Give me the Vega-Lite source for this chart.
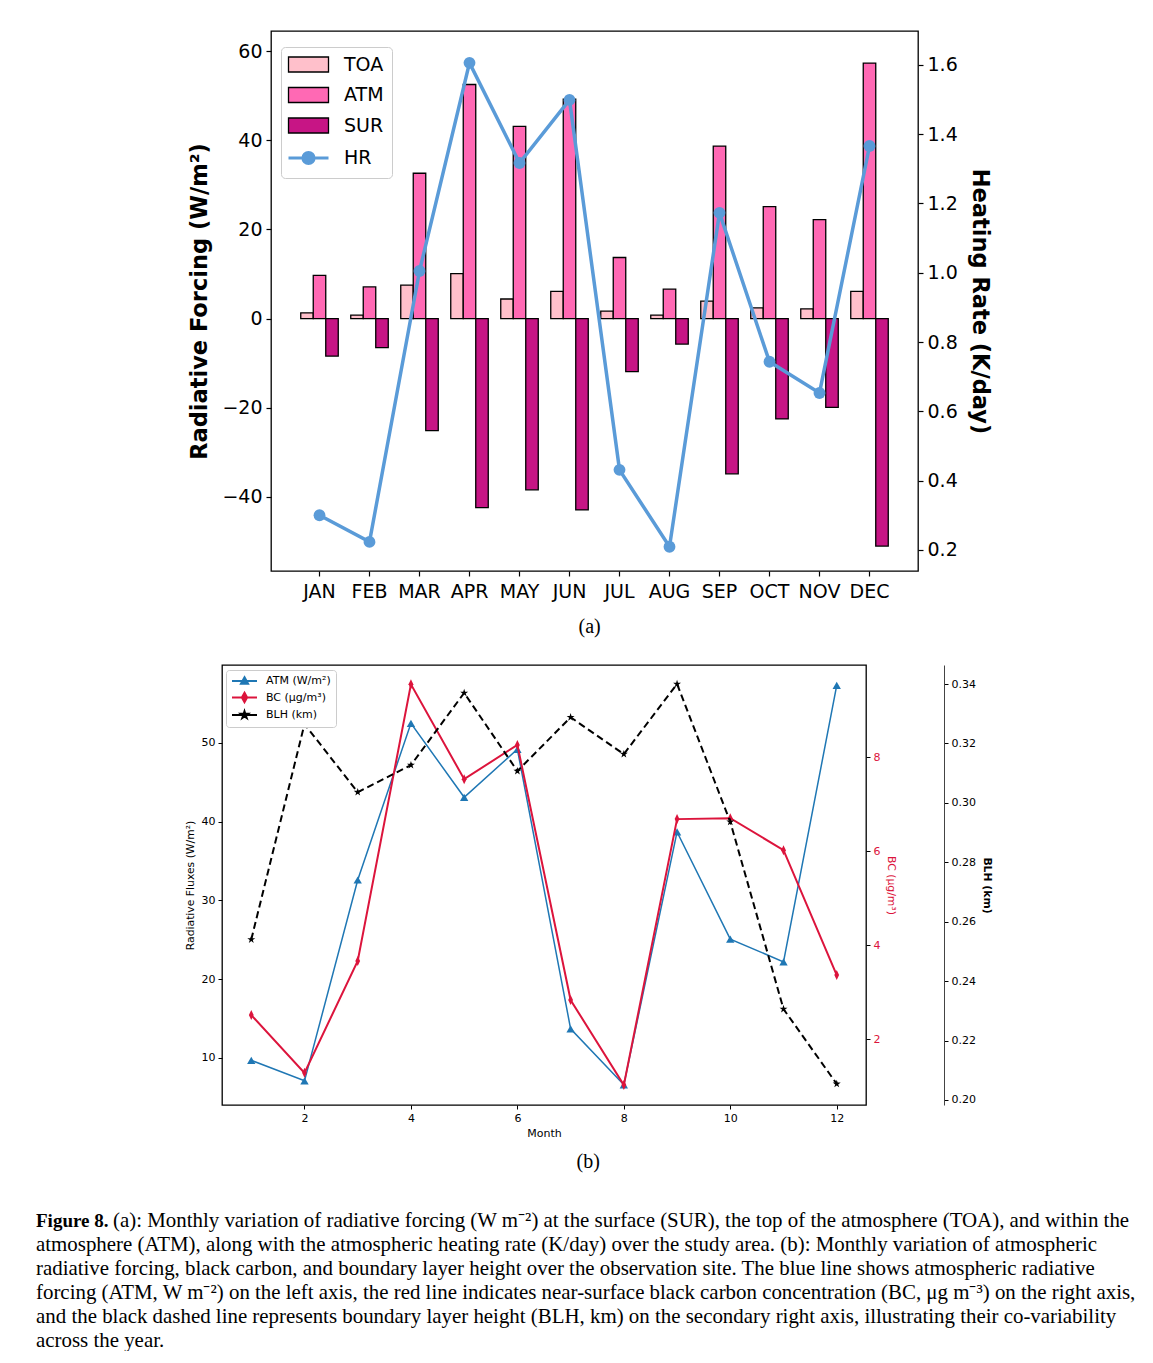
{
  "$schema": "https://vega.github.io/schema/vega-lite/v6.json",
  "padding": {"left": 36, "top": 30, "right": 0, "bottom": 0},
  "background": "white",
  "datasets": {
    "rf": [
      {"month": "JAN", "series": "TOA", "value": 1.3}, {"month": "FEB", "series": "TOA", "value": 0.8}, {"month": "MAR", "series": "TOA", "value": 7.5}, {"month": "APR", "series": "TOA", "value": 10.1}, {"month": "MAY", "series": "TOA", "value": 4.4}, {"month": "JUN", "series": "TOA", "value": 6.1}, {"month": "JUL", "series": "TOA", "value": 1.7}, {"month": "AUG", "series": "TOA", "value": 0.8}, {"month": "SEP", "series": "TOA", "value": 3.9}, {"month": "OCT", "series": "TOA", "value": 2.4}, {"month": "NOV", "series": "TOA", "value": 2.2}, {"month": "DEC", "series": "TOA", "value": 6.1},
      {"month": "JAN", "series": "ATM", "value": 9.7}, {"month": "FEB", "series": "ATM", "value": 7.1}, {"month": "MAR", "series": "ATM", "value": 32.6}, {"month": "APR", "series": "ATM", "value": 52.5}, {"month": "MAY", "series": "ATM", "value": 43.1}, {"month": "JUN", "series": "ATM", "value": 49.2}, {"month": "JUL", "series": "ATM", "value": 13.7}, {"month": "AUG", "series": "ATM", "value": 6.6}, {"month": "SEP", "series": "ATM", "value": 38.7}, {"month": "OCT", "series": "ATM", "value": 25.1}, {"month": "NOV", "series": "ATM", "value": 22.2}, {"month": "DEC", "series": "ATM", "value": 57.3},
      {"month": "JAN", "series": "SUR", "value": -8.4}, {"month": "FEB", "series": "SUR", "value": -6.5}, {"month": "MAR", "series": "SUR", "value": -25.1}, {"month": "APR", "series": "SUR", "value": -42.4}, {"month": "MAY", "series": "SUR", "value": -38.4}, {"month": "JUN", "series": "SUR", "value": -42.9}, {"month": "JUL", "series": "SUR", "value": -11.9}, {"month": "AUG", "series": "SUR", "value": -5.7}, {"month": "SEP", "series": "SUR", "value": -34.8}, {"month": "OCT", "series": "SUR", "value": -22.5}, {"month": "NOV", "series": "SUR", "value": -19.9}, {"month": "DEC", "series": "SUR", "value": -51.0}
    ],
    "hr": [
      {"month": "JAN", "hr": 0.300}, {"month": "FEB", "hr": 0.223}, {"month": "MAR", "hr": 1.005}, {"month": "APR", "hr": 1.606}, {"month": "MAY", "hr": 1.317}, {"month": "JUN", "hr": 1.499}, {"month": "JUL", "hr": 0.431}, {"month": "AUG", "hr": 0.209}, {"month": "SEP", "hr": 1.173}, {"month": "OCT", "hr": 0.743}, {"month": "NOV", "hr": 0.653}, {"month": "DEC", "hr": 1.366}
    ],
    "mb": [
      {"month": 1, "atm": 9.7, "bc": 2.51, "blh": 0.254},
      {"month": 2, "atm": 7.1, "bc": 1.28, "blh": 0.3265},
      {"month": 3, "atm": 32.6, "bc": 3.66, "blh": 0.3036},
      {"month": 4, "atm": 52.5, "bc": 9.55, "blh": 0.3127},
      {"month": 5, "atm": 43.1, "bc": 7.53, "blh": 0.337},
      {"month": 6, "atm": 49.2, "bc": 8.26, "blh": 0.3107},
      {"month": 7, "atm": 13.7, "bc": 2.83, "blh": 0.3288},
      {"month": 8, "atm": 6.6, "bc": 1.02, "blh": 0.3164},
      {"month": 9, "atm": 38.7, "bc": 6.68, "blh": 0.340},
      {"month": 10, "atm": 25.1, "bc": 6.70, "blh": 0.2936},
      {"month": 11, "atm": 22.2, "bc": 6.02, "blh": 0.2306},
      {"month": 12, "atm": 57.3, "bc": 3.36, "blh": 0.2054}
    ],
    "cap": [
      {"line": 0, "part": "bold", "text": "Figure 8."},
      {"line": 0, "part": "rest", "text": "(a): Monthly variation of radiative forcing (W m⁻²) at the surface (SUR), the top of the atmosphere (TOA), and within the"},
      {"line": 1, "part": "body", "text": "atmosphere (ATM), along with the atmospheric heating rate (K/day) over the study area. (b): Monthly variation of atmospheric"},
      {"line": 2, "part": "body", "text": "radiative forcing, black carbon, and boundary layer height over the observation site. The blue line shows atmospheric radiative"},
      {"line": 3, "part": "body", "text": "forcing (ATM, W m⁻²) on the left axis, the red line indicates near-surface black carbon concentration (BC, μg m⁻³) on the right axis,"},
      {"line": 4, "part": "body", "text": "and the black dashed line represents boundary layer height (BLH, km) on the secondary right axis, illustrating their co-variability"},
      {"line": 5, "part": "body", "text": "across the year."}
    ],
    "none": []
  },
  "spacing": 26,
  "center": false,
  "resolve": {"scale": {"color": "independent", "x": "independent", "y": "independent"}, "legend": {"color": "independent"}},
  "vconcat": [
    {
      "spacing": 0,
      "bounds": "flush",
      "resolve": {"scale": {"color": "independent", "x": "independent", "y": "independent"}, "legend": {"color": "independent"}},
      "hconcat": [
        {"width": 235, "height": 1, "view": {"stroke": null}, "data": {"name": "none"}, "mark": "point"},
        {
          "width": 647,
          "height": 540,
          "title": {"text": "(a)", "orient": "bottom", "offset": 16},
          "layer": [
            {
              "layer": [
                {
                  "data": {"name": "rf"},
                  "mark": {"type": "bar", "stroke": "black", "strokeWidth": 1.3},
                  "encoding": {
                    "x": {"field": "month", "type": "nominal", "sort": ["JAN","FEB","MAR","APR","MAY","JUN","JUL","AUG","SEP","OCT","NOV","DEC"], "scale": {"paddingInner": 0.25, "paddingOuter": 0.595}, "axis": {"title": null, "labelAngle": 0, "labelFontSize": 19, "labelPadding": 6, "tickSize": 5, "tickWidth": 1.2}},
                    "xOffset": {"field": "series", "type": "nominal", "scale": {"domain": ["TOA","ATM","SUR"], "paddingInner": 0, "paddingOuter": 0}},
                    "y": {"field": "value", "type": "quantitative", "stack": null, "scale": {"domain": [-56.6, 64.5], "nice": false}, "axis": {"title": "Radiative Forcing (W/m²)", "values": [-40,-20,0,20,40,60], "labelFontSize": 19, "titleFontSize": 22.5, "titleFontWeight": "bold", "tickSize": 5, "tickWidth": 1.2, "labelPadding": 4, "titlePadding": 10}},
                    "color": {
                      "field": "series", "type": "nominal",
                      "scale": {"domain": ["TOA","ATM","SUR","HR"], "range": ["#ffc0cb","#ff69b4","#c71585","#5a9bd8"]},
                      "legend": {
                        "title": null, "orient": "none", "legendX": 10, "legendY": 16,
                        "symbolSize": 400, "labelOffset": 36, "labelFontSize": 19, "labelFont": "DejaVu Sans", "labelColor": "black",
                        "rowPadding": 9.5, "padding": 8, "strokeColor": "#cccccc", "fillColor": "white", "cornerRadius": 4,
                        "symbolStrokeColor": "black", "symbolStrokeWidth": 1.3,
                        "encode": {"symbols": {"update": {
                          "shape": {"signal": "datum.value === 'HR' ? 'M-1,0H3M1.55,0A0.55,0.55,0,1,1,0.45,0A0.55,0.55,0,1,1,1.55,0Z' : 'M-1,-0.75H3V0.75H-1Z'"},
                          "fill": {"signal": "{'TOA':'#ffc0cb','ATM':'#ff69b4','SUR':'#c71585','HR':'#5a9bd8'}[datum.value]"},
                          "stroke": {"signal": "datum.value === 'HR' ? '#5a9bd8' : 'black'"},
                          "strokeWidth": {"signal": "datum.value === 'HR' ? 3.2 : 1.3"},
                          "opacity": {"value": 1}
                        }}}
                      }
                    }
                  }
                },
                {
                  "mark": {"type": "rule", "strokeDash": [6, 4], "color": "black", "strokeWidth": 1.3},
                  "encoding": {"y": {"datum": 0}}
                }
              ]
            },
            {
              "data": {"name": "hr"},
              "mark": {"type": "line", "color": "#5a9bd8", "strokeWidth": 3.5, "point": {"filled": true, "size": 140, "color": "#5a9bd8"}},
              "encoding": {
                "x": {"field": "month", "type": "nominal", "sort": ["JAN","FEB","MAR","APR","MAY","JUN","JUL","AUG","SEP","OCT","NOV","DEC"]},
                "y": {"field": "hr", "type": "quantitative", "scale": {"domain": [0.139, 1.698], "nice": false, "zero": false}, "axis": {"orient": "right", "title": "Heating Rate (K/day)", "values": [0.2,0.4,0.6,0.8,1.0,1.2,1.4,1.6], "format": ".1f", "labelFontSize": 19, "titleFontSize": 22.5, "titleFontWeight": "bold", "tickSize": 5, "tickWidth": 1.2, "labelPadding": 4, "titlePadding": 10}}
              }
            }
          ],
          "resolve": {"scale": {"y": "independent"}}
        }
      ]
    },
    {
      "spacing": 0,
      "bounds": "flush",
      "resolve": {"scale": {"color": "independent", "x": "independent", "y": "independent"}, "legend": {"color": "independent"}},
      "hconcat": [
        {"width": 186, "height": 1, "view": {"stroke": null}, "data": {"name": "none"}, "mark": "point"},
        {
          "width": 644,
          "height": 440,
          "title": {"text": "(b)", "orient": "bottom", "offset": 14},
          "data": {"name": "mb"},
          "layer": [
            {
              "mark": {"type": "line", "strokeWidth": 1.5, "point": {"filled": true, "shape": "triangle-up", "size": 70}},
              "encoding": {
                "x": {"field": "month", "type": "quantitative", "scale": {"domain": [0.45, 12.55], "nice": false, "zero": false}, "axis": {"title": "Month", "values": [2,4,6,8,10,12], "labelFontSize": 11, "titleFontSize": 11, "titleFontWeight": "normal", "tickSize": 4, "labelPadding": 3, "titlePadding": 4}},
                "y": {"field": "atm", "type": "quantitative", "scale": {"domain": [4.03, 59.9], "nice": false, "zero": false}, "axis": {"orient": "left", "title": "Radiative Fluxes (W/m²)", "values": [10,20,30,40,50], "labelFontSize": 11, "titleFontSize": 10.8, "titleFontWeight": "normal", "tickSize": 4, "labelPadding": 3, "titlePadding": 6}},
                "color": {
                  "datum": "ATM (W/m²)",
                  "scale": {"domain": ["ATM (W/m²)", "BC (μg/m³)", "BLH (km)"], "range": ["#1f77b4", "#dc143c", "black"]},
                  "legend": {
                    "title": null, "orient": "none", "legendX": 4, "legendY": 5,
                    "symbolSize": 100, "labelOffset": 23, "labelFontSize": 11, "labelFont": "DejaVu Sans", "labelColor": "black",
                    "rowPadding": 0.5, "padding": 5, "strokeColor": "#cccccc", "fillColor": "white", "cornerRadius": 3,
                    "encode": {"symbols": {"update": {
                      "shape": {"signal": "indexof(datum.value,'ATM') === 0 ? 'M-1,0H4M1.5,-0.8L2.25,0.55L0.75,0.55Z' : indexof(datum.value,'BC') === 0 ? 'M-1,0H4M1.5,-1L2.05,0L1.5,1L0.95,0Z' : 'M-1,0H4M1.5,-0.8L1.68,-0.247L2.261,-0.247L1.79,0.094L1.97,0.647L1.5,0.306L1.03,0.647L1.21,0.094L0.739,-0.247L1.32,-0.247Z'"},
                      "fill": {"signal": "indexof(datum.value,'ATM') === 0 ? '#1f77b4' : indexof(datum.value,'BC') === 0 ? '#dc143c' : 'black'"},
                      "stroke": {"signal": "indexof(datum.value,'ATM') === 0 ? '#1f77b4' : indexof(datum.value,'BC') === 0 ? '#dc143c' : 'black'"},
                      "strokeWidth": {"value": 1.8},
                      "opacity": {"value": 1}
                    }}}
                  }
                }
              }
            },
            {
              "mark": {"type": "line", "strokeWidth": 2, "point": {"filled": true, "shape": "M0,-1.25L0.6,0L0,1.25L-0.6,0Z", "size": 64}},
              "encoding": {
                "x": {"field": "month", "type": "quantitative"},
                "y": {"field": "bc", "type": "quantitative", "scale": {"domain": [0.596, 9.96], "nice": false, "zero": false}, "axis": {"orient": "right", "title": "BC (μg/m³)", "values": [2,4,6,8], "labelColor": "#dc143c", "titleColor": "#dc143c", "labelFontSize": 11, "titleFontSize": 10.8, "titleFontWeight": "normal", "tickSize": 4, "labelPadding": 3, "titlePadding": 6}},
                "color": {"datum": "BC (μg/m³)"}
              }
            },
            {
              "mark": {"type": "line", "strokeWidth": 2, "strokeDash": [7, 4], "point": {"filled": true, "shape": "M0,-1L0.225,-0.309L0.951,-0.309L0.363,0.118L0.588,0.809L0,0.382L-0.588,0.809L-0.363,0.118L-0.951,-0.309L-0.225,-0.309Z", "size": 70}},
              "encoding": {
                "x": {"field": "month", "type": "quantitative"},
                "y": {"field": "blh", "type": "quantitative", "scale": {"domain": [0.1983, 0.3464], "nice": false, "zero": false}, "axis": {"orient": "right", "offset": 78, "title": "BLH (km)", "values": [0.20,0.22,0.24,0.26,0.28,0.30,0.32,0.34], "format": ".2f", "domain": true, "domainColor": "#444444", "labelFontSize": 11, "titleFontSize": 10.8, "titleFontWeight": "bold", "tickSize": 4, "labelPadding": 3, "titlePadding": 6}},
                "color": {"datum": "BLH (km)"}
              }
            }
          ],
          "resolve": {"scale": {"y": "independent"}}
        }
      ]
    },
    {
      "width": 1100,
      "height": 141.6,
      "view": {"stroke": null},
      "data": {"name": "cap"},
      "encoding": {
        "x": {"datum": 0, "type": "quantitative", "scale": {"domain": [0, 1]}, "axis": null},
        "y": {"field": "line", "type": "quantitative", "scale": {"domain": [-0.9, 5], "reverse": true}, "axis": null},
        "text": {"field": "text"}
      },
      "layer": [
        {"transform": [{"filter": "datum.part === 'bold'"}], "mark": {"type": "text", "align": "left", "baseline": "middle", "font": "Liberation Serif", "fontSize": 19, "fontWeight": "bold", "color": "black"}},
        {"transform": [{"filter": "datum.part === 'rest'"}], "mark": {"type": "text", "align": "left", "baseline": "middle", "dx": 77, "font": "Liberation Serif", "fontSize": 20.9, "color": "black"}},
        {"transform": [{"filter": "datum.part === 'body'"}], "mark": {"type": "text", "align": "left", "baseline": "middle", "font": "Liberation Serif", "fontSize": 20.9, "color": "black"}}
      ]
    }
  ],
  "config": {
    "view": {"stroke": "black", "strokeWidth": 1.3},
    "axis": {"grid": false, "domain": false, "labelColor": "black", "titleColor": "black", "tickColor": "black", "labelFont": "DejaVu Sans", "titleFont": "DejaVu Sans"},
    "title": {"font": "Liberation Serif", "fontSize": 20, "fontWeight": "normal", "color": "black", "frame": "bounds", "anchor": "middle"}
  }
}
